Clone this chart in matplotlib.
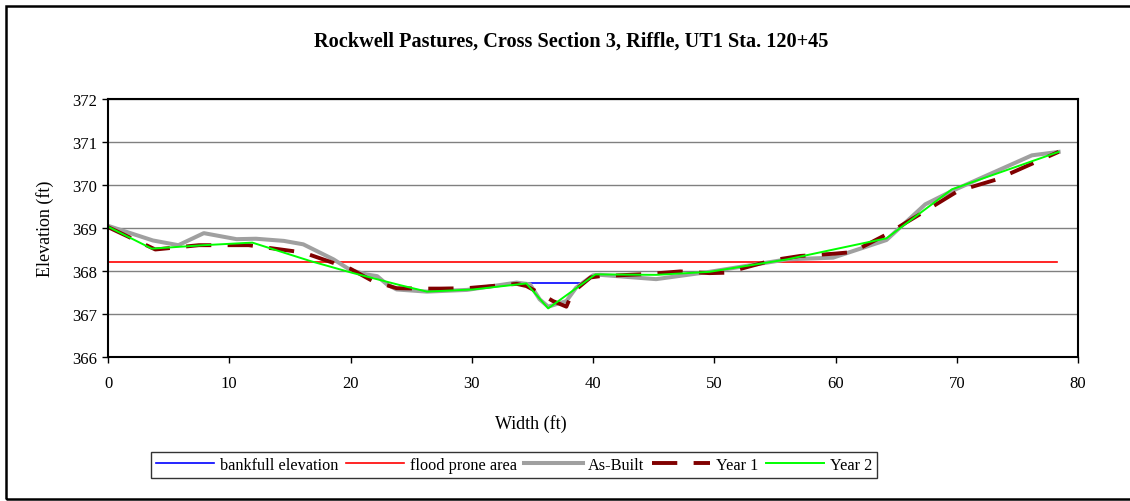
import matplotlib.pyplot as plt
from matplotlib.patches import Rectangle

plt.rcParams['font.family'] = ['Liberation Serif', 'DejaVu Serif']

# 断面データ (ft)
asbuilt_x = [0, 3.7, 5.8, 7.9, 10.6, 12.2, 14.5, 16.1, 18.6, 20.0, 21.3, 22.2, 23.0, 23.8,
             26.3, 29.6, 33.7, 34.8, 35.6, 36.3, 37.8, 38.6, 40.0, 40.6, 45.2, 49.6,
             56.0, 59.8, 64.2, 67.4, 69.6, 76.2, 78.4]
asbuilt_y = [369.05, 368.71, 368.60, 368.88, 368.74, 368.75, 368.70, 368.62, 368.27, 368.02,
             367.92, 367.88, 367.69, 367.57, 367.52, 367.56, 367.73, 367.69, 367.34, 367.17,
             367.30, 367.61, 367.90, 367.91, 367.81, 367.98, 368.27, 368.31, 368.72, 369.55,
             369.86, 370.69, 370.77]

year1_x = [0, 3.9, 7.5, 11.6, 16.1, 20.0, 21.8, 23.8, 25.7, 27.4, 29.6, 33.7, 34.5, 35.3,
           36.7, 37.8, 38.3, 39.8, 40.6, 44.5, 47.2, 49.6, 51.0, 54.8, 57.1, 59.8, 61.4,
           64.2, 67.2, 70.1, 73.3, 78.4]
year1_y = [369.02, 368.50, 368.60, 368.60, 368.43, 368.05, 367.77, 367.60, 367.59, 367.59,
           367.60, 367.70, 367.65, 367.53, 367.30, 367.17, 367.50, 367.85, 367.88, 367.93,
           367.99, 367.95, 367.96, 368.25, 368.35, 368.40, 368.44, 368.85, 369.36, 369.86,
           370.13, 370.77]

year2_x = [0, 3.6, 7.9, 11.9, 16.7, 20.1, 24.1, 26.3, 30.1, 34.5, 36.3, 40.2, 40.6, 45.2,
           49.6, 56.0, 64.2, 69.6, 78.4]
year2_y = [369.03, 368.52, 368.60, 368.66, 368.23, 367.96, 367.67, 367.52, 367.57, 367.71,
           367.13, 367.92, 367.92, 367.91, 367.98, 368.27, 368.76, 369.90, 370.77]

bankfull_x = [34.5, 39.3]
bankfull_y = [367.71, 367.71]

flood_x = [0, 78.3]
flood_y = [368.22, 368.22]

fig = plt.figure(figsize=(11.3, 5.02), dpi=100)
ax = fig.add_axes([0.0956, 0.2869, 0.8584, 0.5139])

ax.plot(bankfull_x, bankfull_y, color='#0000FF', lw=1.2, label='bankfull elevation')
ax.plot(flood_x, flood_y, color='#FF0000', lw=1.2, label='flood prone area')
ax.plot(asbuilt_x, asbuilt_y, color='#A0A0A0', lw=2.9, label='As-Built')
ax.plot(year1_x, year1_y, color='#800000', lw=2.8, dashes=(6.5, 4.2), label='Year 1')
ax.plot(year2_x, year2_y, color='#00FF00', lw=1.4, label='Year 2')

ax.set_xlim(0, 80)
ax.set_ylim(366, 372)
ax.set_xticks(range(0, 81, 10))
ax.set_yticks(range(366, 373))
ax.yaxis.grid(True, color='#808080', lw=1.0)
ax.set_axisbelow(True)
for s in ax.spines.values():
    s.set_linewidth(1.5)
ax.tick_params(direction='out', length=4, width=1, labelsize=12)
ax.tick_params(axis='x', pad=9)
ax.tick_params(axis='y', pad=4)

ax.set_xlabel('Width (ft)', fontsize=13)
ax.set_ylabel('Elevation (ft)', fontsize=13)
ax.xaxis.set_label_coords(0.436, -0.22)
ax.yaxis.set_label_coords(-0.056, 0.5)

fig.text(571 / 1130, 1 - 42 / 502, 'Rockwell Pastures, Cross Section 3, Riffle, UT1 Sta. 120+45',
         ha='center', va='center', fontsize=14.6, fontweight='bold')

leg = fig.legend(loc='center', bbox_to_anchor=(514 / 1130, 1 - 466 / 502), ncol=5,
                 fontsize=11.7, frameon=True, fancybox=False, edgecolor='black',
                 handlelength=3.6, handletextpad=0.35, columnspacing=0.45, borderpad=0.3,
                 borderaxespad=0)
leg.get_frame().set_linewidth(1.0)

fig.patches.append(Rectangle((6 / 1130, 2 / 502), 1.1, 493 / 502, transform=fig.transFigure,
                             fill=False, edgecolor='black', lw=1.8))

fig.savefig('out.png', dpi=100)
